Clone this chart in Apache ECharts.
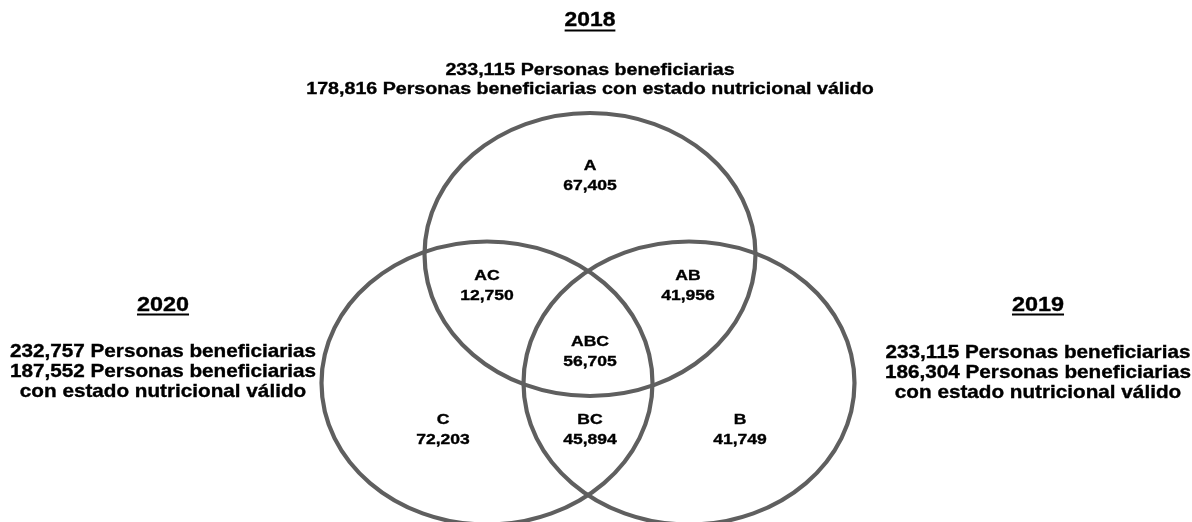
<!DOCTYPE html>
<html><head><meta charset="utf-8">
<script src="https://cdn.jsdelivr.net/npm/echarts@6/dist/echarts.min.js"></script>
<style>html,body{margin:0;padding:0;background:#fff}#c{width:1192px;height:522px}</style>
</head><body><div id="c"></div>
<script>
// ---- data ----
const years = ['2018', '2019', '2020'];
const setCodes = ['A', 'B', 'C'];
const beneficiaries = [233115, 233115, 232757];
const validNutrition = [178816, 186304, 187552];
const regionNames = ['A', 'AC', 'AB', 'ABC', 'C', 'BC', 'B'];
const regionValues = [67405, 12750, 41956, 56705, 72203, 45894, 41749];

// ---- layout (diagram units on hidden value axes) ----
const circleLayout = { A: [590, 254.5, 165.5, 141.5], B: [689, 383, 165.5, 141.5], C: [487, 383, 165.5, 141.5] };
const regionAnchor = { A: [590, 175.5], AC: [487, 286], AB: [688, 286], ABC: [590, 352], C: [443, 430], BC: [590, 430], B: [740, 430] };
const blockLayout = {
  A: { x: 590, titleY: 21, firstY: 70, step: 19, wrap: false, title: 19.5 },
  B: { x: 1038, titleY: 305, firstY: 353, step: 20, wrap: true, title: 20 },
  C: { x: 163, titleY: 305, firstY: 352, step: 20, wrap: true, title: 20 }
};
const FONT = '"Liberation Sans", Arial, Helvetica, sans-serif';
const SX = 1.17;

const fmt = n => n.toLocaleString('en-US');
const mctx = document.createElement('canvas').getContext('2d');
function textW(t, font) { mctx.font = font; return mctx.measureText(t).width; }

const heavy = { stroke: '#000', lineWidth: 0.35 };
const graphics = [];
setCodes.forEach((code, i) => {
  const L = blockLayout[code];
  const titleFont = 'bold ' + L.title + 'px ' + FONT;
  graphics.push({ type: 'text', x: L.x, y: L.titleY, scaleX: SX,
    style: Object.assign({ text: years[i], font: titleFont, align: 'center', verticalAlign: 'middle', fill: '#000' }, heavy) });
  const w = textW(years[i], titleFont) * SX;
  graphics.push({ type: 'line', shape: { x1: L.x - w / 2, y1: L.titleY + 9.5, x2: L.x + w / 2, y2: L.titleY + 9.5 }, style: { stroke: '#000', lineWidth: 2 } });
  const lines = L.wrap
    ? [fmt(beneficiaries[i]) + ' Personas beneficiarias', fmt(validNutrition[i]) + ' Personas beneficiarias', 'con estado nutricional válido']
    : [fmt(beneficiaries[i]) + ' Personas beneficiarias', fmt(validNutrition[i]) + ' Personas beneficiarias con estado nutricional válido'];
  const bodyFont = L.wrap ? 'bold 17.7px ' + FONT : 'bold 16.8px ' + FONT;
  lines.forEach((t, j) => {
    graphics.push({ type: 'text', x: L.x, y: L.firstY + j * L.step, scaleX: SX,
      style: Object.assign({ text: t, font: bodyFont, align: 'center', verticalAlign: 'middle', fill: '#000' }, heavy) });
  });
});

const chart = echarts.init(document.getElementById('c'), null, { renderer: 'canvas' });
chart.setOption({
  backgroundColor: '#fff',
  animation: false,
  grid: { left: 0, right: 0, top: 0, bottom: 0, containLabel: false },
  xAxis: { type: 'value', min: 0, max: 1192, show: false },
  yAxis: { type: 'value', min: 0, max: 522, inverse: true, show: false },
  graphic: graphics,
  series: [
    {
      type: 'custom', clip: false, silent: true,
      data: setCodes.map(k => circleLayout[k]),
      renderItem: (params, api) => {
        const c = api.coord([api.value(0), api.value(1)]);
        const s = api.size([api.value(2), api.value(3)]);
        return { type: 'ellipse', shape: { cx: c[0], cy: c[1], rx: Math.abs(s[0]), ry: Math.abs(s[1]) },
          style: { fill: 'none', stroke: '#5f5f5f', lineWidth: 4.2 } };
      }
    },
    {
      type: 'custom', clip: false, silent: true,
      data: regionNames.map((n, i) => [regionAnchor[n][0], regionAnchor[n][1], regionValues[i]]),
      renderItem: (params, api) => {
        const c = api.coord([api.value(0), api.value(1)]);
        const name = regionNames[params.dataIndex];
        return { type: 'text', x: c[0], y: c[1], scaleX: SX,
          style: Object.assign({ text: name + '\n' + fmt(api.value(2)), font: 'bold 15px ' + FONT, lineHeight: 20,
            align: 'center', verticalAlign: 'middle', fill: '#000' }, heavy) };
      }
    }
  ]
});
</script></body></html>
